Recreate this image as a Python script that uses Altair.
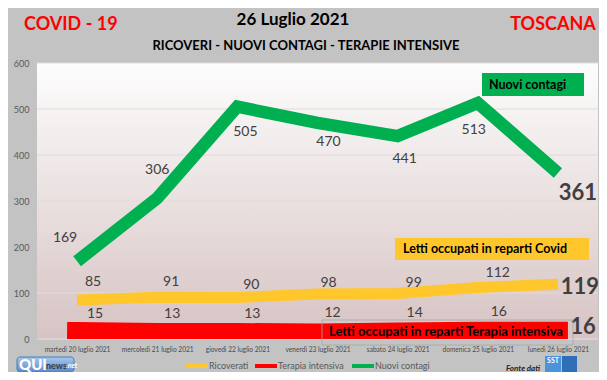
import altair as alt
import pandas as pd

# ---- data ----
days = ["martedì 20 luglio 2021", "mercoledì 21 luglio 2021", "giovedì 22 luglio 2021",
        "venerdì 23 luglio 2021", "sabato 24 luglio 2021", "domenica 25 luglio 2021",
        "lunedì 26 luglio 2021"]
ricoverati = [85, 91, 90, 98, 99, 112, 119]
terapia = [15, 13, 13, 12, 14, 16, 16]
contagi = [169, 306, 505, 470, 441, 513, 361]
series = ["Ricoverati", "Terapia intensiva", "Nuovi contagi"]
colors = ["#ffc72c", "#ff0000", "#00b050"]
y_ticks = [0, 100, 200, 300, 400, 500, 600]

# ---- layout (label offsets in px) ----
off_contagi = [(-12, -23), (0, -28), (8, 25), (11, 19), (7, 23), (-4, 27), (20, 20)]
off_ricoverati = [(16, -18), (14, -15), (14, -13), (11, -11), (16, -10), (20, -14), (22, 3)]
off_terapia = [(18, -18), (15, -19), (15, -19), (15, -20), (17, -20), (21, -20), (25, -5)]
legend_x = [149, 218, 315]

FONT = "Lato"
W, H = 561, 276

rows = []
for name, vals in zip(series, [ricoverati, terapia, contagi]):
    for d, v in zip(days, vals):
        rows.append({"day": d, "value": v, "series": name})
df = pd.DataFrame(rows)

xenc = alt.X("day:N", sort=days,
             scale=alt.Scale(domain=days, type="point", padding=0.5),
             axis=alt.Axis(title=None, labelAngle=0, labelFontSize=6.6, labelColor="#4a4a4a",
                           labelFont=FONT, domain=True, domainColor="#d0d0d0", ticks=False,
                           labelPadding=7))
yenc = alt.Y("value:Q", scale=alt.Scale(domain=[0, 600], nice=False),
             axis=alt.Axis(values=y_ticks, title=None, grid=False, domain=False, ticks=False,
                           labelFontSize=9, labelColor="#595959", labelFont=FONT,
                           labelPadding=8))

one = pd.DataFrame({"a": [0]})

bg = alt.Chart(one).mark_rect(
    color=alt.Gradient(gradient="linear",
                       stops=[alt.GradientStop(color="#fdfdfd", offset=0),
                              alt.GradientStop(color="#d7c3c3", offset=1)],
                       x1=0, x2=0, y1=0, y2=1)
).encode(x=alt.value(0), x2=alt.value(W), y=alt.value(0), y2=alt.value(H))

grid = alt.Chart(pd.DataFrame({"value": y_ticks})).mark_rule(
    color="#e2dada", strokeWidth=1).encode(y=yenc)

color_scale = alt.Scale(domain=series, range=colors)


def line(name, sw, cap, clip=False):
    return alt.Chart(df[df.series == name]).mark_line(
        strokeWidth=sw, strokeCap=cap, strokeJoin="miter", clip=clip
    ).encode(x=xenc, y=yenc,
             color=alt.Color("series:N", scale=color_scale, legend=None))


red = line("Terapia intensiva", 20, "square", True)
yellow = line("Ricoverati", 11, "butt")
green = line("Nuovi contagi", 12.5, "butt")

label_layers = []
for vals, offs in zip([ricoverati, terapia, contagi],
                      [off_ricoverati, off_terapia, off_contagi]):
    for i, (d, v) in enumerate(zip(days, vals)):
        last = i == len(days) - 1
        label_layers.append(
            alt.Chart(pd.DataFrame({"day": [d], "value": [v]})).mark_text(
                fontSize=22 if last else 14, font=FONT,
                fontWeight="bold" if last else "normal",
                color="#404040", align="center", baseline="middle",
                dx=offs[i][0], dy=offs[i][1]
            ).encode(x=xenc, y=yenc, text="value:Q")
        )


def box(x1, x2, y1, y2, fill, stroke=None, sw=0, r=0):
    kw = dict(fill=fill, strokeWidth=sw, cornerRadius=r)
    if stroke:
        kw["stroke"] = stroke
    return alt.Chart(one).mark_rect(**kw).encode(
        x=alt.value(x1), x2=alt.value(x2), y=alt.value(y1), y2=alt.value(y2))


def txt(s, x, y, size, color="#000000", weight="bold", align="left", style="normal"):
    return alt.Chart(one).mark_text(
        text=s, fontSize=size, font=FONT, fontWeight=weight, align=align,
        baseline="middle", fontStyle=style
    ).encode(x=alt.value(x), y=alt.value(y), fill=alt.value(color),
             fillOpacity=alt.value(1))


# manual legend built from the series list
legend_layers = []
for name, col, lx in zip(series, colors, legend_x):
    legend_layers.append(
        alt.Chart(one).mark_rule(color=col, strokeWidth=4).encode(
            x=alt.value(lx), x2=alt.value(lx + 22), y=alt.value(303)))
    legend_layers.append(txt(name, lx + 23, 303, 9, "#595959", weight="normal"))

logo_grad = alt.Gradient(gradient="linear",
                         stops=[alt.GradientStop(color="#a9c8ee", offset=0),
                                alt.GradientStop(color="#5a8ccc", offset=1)],
                         x1=0, x2=0, y1=0, y2=1)

annots = [
    box(445, 547, 10, 33, "#00b050"),
    txt("Nuovi contagi", 452, 21.5, 12.5, "#000000"),
    box(358, 552, 175, 197, "#ffc72c"),
    txt("Letti occupati in reparti Covid", 366, 186, 12.5),
    box(285, 536, 257, 282, "transparent", "#a6a6a6", 0.8),
    txt("Letti occupati in reparti Terapia intensiva", 409, 269, 13, align="center"),
    # titles
    txt("COVID - 19", -13, -38, 18, "#ff0000"),
    txt("26 Luglio 2021", 256, -43, 17, align="center"),
    txt("RICOVERI - NUOVI CONTAGI - TERAPIE INTENSIVE", 269, -17, 13, align="center"),
    txt("TOSCANA", 516, -38, 18, "#ff0000", align="center"),
    # logos
    alt.Chart(one).mark_rect(fill=logo_grad, stroke="#4a78b5", strokeWidth=1,
                             cornerRadius=3).encode(
        x=alt.value(-20), x2=alt.value(37), y=alt.value(294), y2=alt.value(309)),
    txt("QUI", -18, 301.5, 15, "#ffffff", weight=900),
    txt("news", 9, 302.5, 9, "#3a3a3a"),
    txt(".net", 29, 302.5, 7, "#ffffff", style="italic"),
    txt("Fonte dati", 486, 306, 8, "#222222", style="italic", align="center"),
    box(508, 524, 293, 311, "#4a94dc"),
    box(525, 540, 293, 311, "#2f6fb8"),
    txt("SST", 516, 298, 7, "#ffffff", align="center"),
]

chart = alt.layer(bg, grid, red, yellow, green, *label_layers, *legend_layers,
                  *annots).properties(
    width=W, height=H, autosize="none",
    padding={"left": 29, "top": 55, "right": 1, "bottom": 33},
    background="#c3c3c3"
).configure_view(strokeWidth=0)

chart.save("out.html", embed_options={"renderer": "svg", "actions": False})
